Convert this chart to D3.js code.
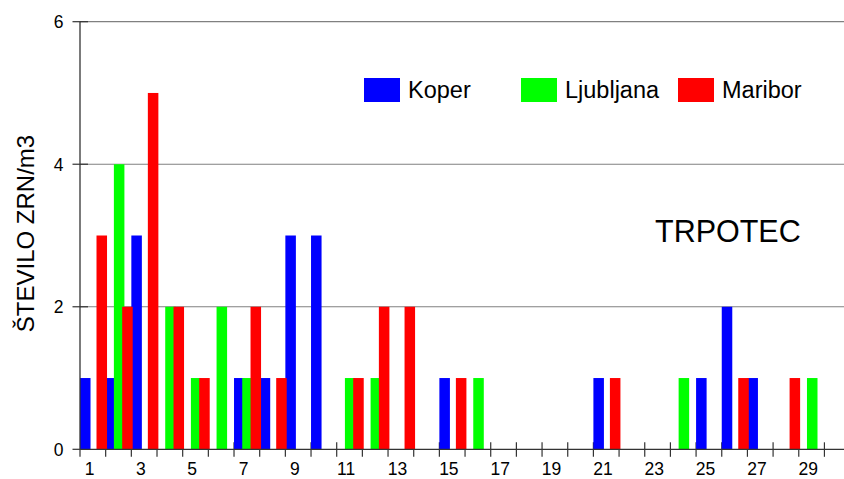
<!DOCTYPE html>
<html>
<head>
<meta charset="utf-8">
<script src="https://cdn.jsdelivr.net/npm/d3@7"></script>
<style>
  html, body { margin: 0; padding: 0; background: #fff; }
  svg { display: block; font-family: "Liberation Sans", Arial, sans-serif; }
</style>
</head>
<body>
<svg id="chart" width="844" height="479"></svg>
<script>
// ---- data ----
const days = d3.range(1, 31);                       // 1..30
const seriesNames = ["Koper", "Ljubljana", "Maribor"];
const seriesColors = ["#0000FF", "#00FF00", "#FF0000"];
const koper     = [1,1,3,0,0,0,1,1,3,3,0,0,0,0,1,0,0,0,0,0,1,0,0,0,1,2,1,0,0,0];
const ljubljana = [0,4,0,2,1,2,1,0,0,0,1,1,0,0,0,1,0,0,0,0,0,0,0,1,0,0,0,0,1,0];
const maribor   = [3,2,5,2,1,0,2,1,0,0,1,2,2,0,1,0,0,0,0,0,1,0,0,0,0,1,0,1,0,0];
const yTicks = [0, 2, 4, 6];
const xLabels = [1,3,5,7,9,11,13,15,17,19,21,23,25,27,29];
const yTitle = "ŠTEVILO ZRN/m3";
const chartTitle = "TRPOTEC";
const seriesValues = [koper, ljubljana, maribor];

// ---- layout ----
const svg = d3.select("#chart");
const x0 = 80, step = 25.67;
const x = d3.scaleBand().domain(days).range([x0, x0 + step * days.length]).padding(0);
const y = d3.scaleLinear().domain([0, 6]).range([449.3, 21.7]);
const bw = x.bandwidth();
const barOffsets = [0, 0.32 * bw, 0.643 * bw];
const barWidth = 0.41 * bw;

// gridlines
svg.append("g").selectAll("line").data(yTicks.filter(d => d > 0)).join("line")
  .attr("x1", x0).attr("x2", 844)
  .attr("y1", d => y(d)).attr("y2", d => y(d))
  .attr("stroke", "#808080").attr("stroke-width", 1.2);

// x ticks (crossing the axis)
const xTickPos = d3.range(0, days.length + 1).map(i => x0 + i * step);
svg.append("g").selectAll("line").data(xTickPos.slice(1)).join("line")
  .attr("x1", d => d).attr("x2", d => d)
  .attr("y1", y(0) - 7).attr("y2", y(0) + 7.5)
  .attr("stroke", "#333").attr("stroke-width", 1.2);
svg.append("line").attr("x1", x0).attr("x2", x0).attr("y1", y(0)).attr("y2", y(0) + 7.5)
  .attr("stroke", "#333").attr("stroke-width", 1.2);

// y ticks
svg.append("g").selectAll("line").data(yTicks).join("line")
  .attr("x1", 72.5).attr("x2", d => d === 0 ? x0 : 88)
  .attr("y1", d => y(d)).attr("y2", d => y(d))
  .attr("stroke", "#333").attr("stroke-width", 1.2);

// bars
seriesValues.forEach((vals, si) => {
  svg.append("g").selectAll("rect").data(days.map((d, i) => ({ day: d, v: vals[i] })).filter(o => o.v > 0))
    .join("rect")
    .attr("x", o => x(o.day) + barOffsets[si])
    .attr("width", barWidth)
    .attr("y", o => y(o.v))
    .attr("height", o => y(0) - y(o.v))
    .attr("fill", seriesColors[si]);
});

// axis lines
svg.append("line").attr("x1", x0).attr("x2", 844).attr("y1", y(0)).attr("y2", y(0))
  .attr("stroke", "#333").attr("stroke-width", 1.3);
svg.append("line").attr("x1", x0).attr("x2", x0).attr("y1", y(6)).attr("y2", y(0))
  .attr("stroke", "#333").attr("stroke-width", 1.3);

// y tick labels
svg.append("g").selectAll("text").data(yTicks).join("text")
  .attr("x", 63.5).attr("y", d => y(d) + 6.4)
  .attr("text-anchor", "end").attr("font-size", 17.5).attr("fill", "#000")
  .text(d => d);

// x tick labels
svg.append("g").selectAll("text").data(xLabels).join("text")
  .attr("x", d => x(d) + 9.5).attr("y", 475)
  .attr("text-anchor", "middle").attr("font-size", 17.5).attr("fill", "#000")
  .text(d => d);

// y axis title
svg.append("text")
  .attr("transform", "translate(33.5,233.5) rotate(-90)")
  .attr("text-anchor", "middle").attr("font-size", 24).attr("fill", "#000")
  .text(yTitle);

// chart title
svg.append("text").attr("x", 655).attr("y", 241.7)
  .attr("font-size", 30.5).attr("fill", "#000").text(chartTitle);

// legend
const legend = svg.append("g").selectAll("g").data(seriesNames).join("g")
  .attr("transform", (d, i) => `translate(${364 + i * 157},78)`);
legend.append("rect").attr("width", 36).attr("height", 24)
  .attr("fill", (d, i) => seriesColors[i]);
legend.append("text").attr("x", 44).attr("y", 19.7)
  .attr("font-size", 23.5).attr("fill", "#000").text(d => d);
</script>
</body>
</html>
